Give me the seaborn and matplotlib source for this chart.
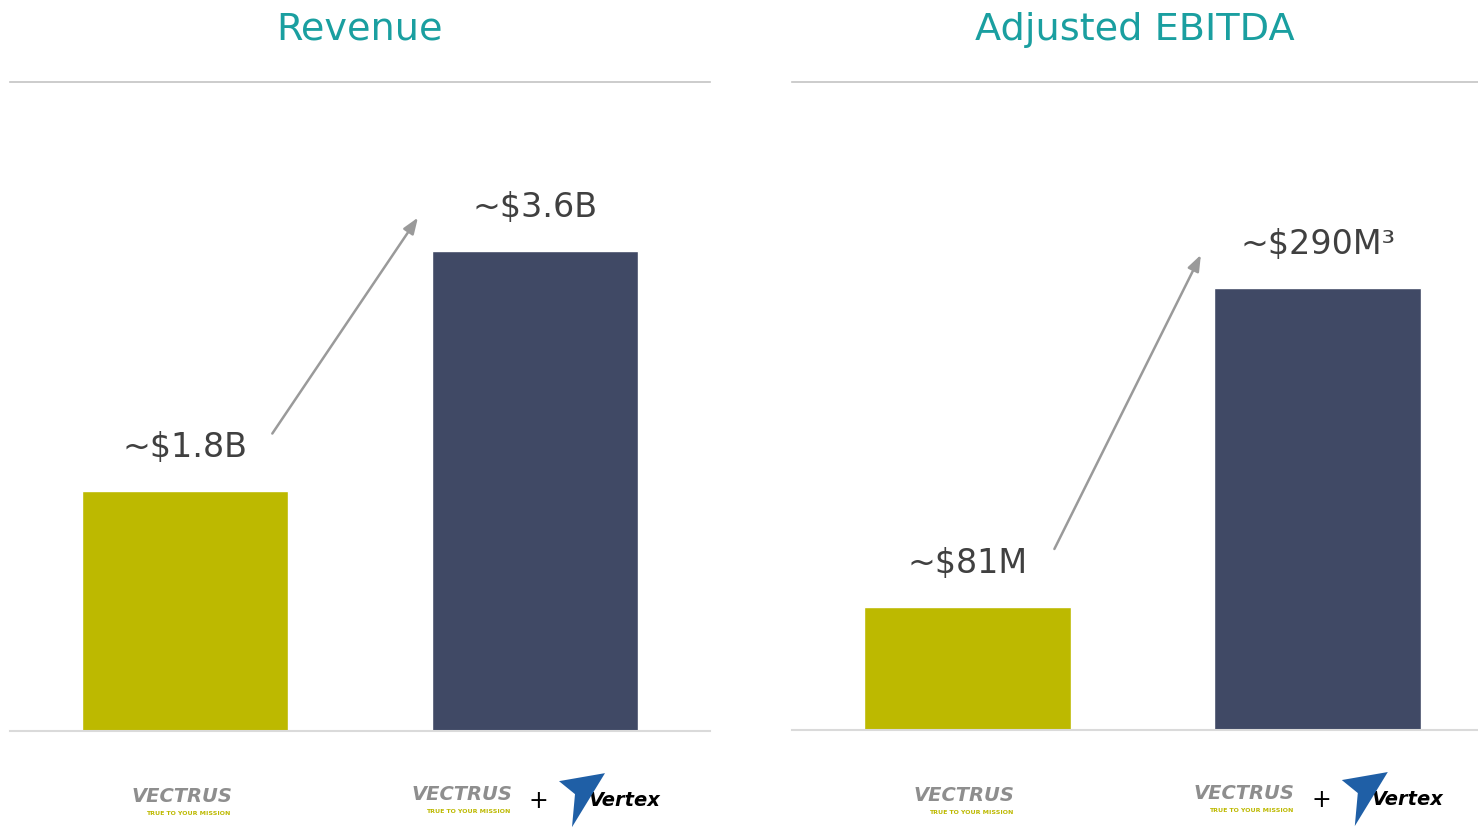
import matplotlib
matplotlib.use("Agg")
import matplotlib.pyplot as plt
import matplotlib.transforms as mtransforms
from matplotlib.patches import Polygon
import pandas as pd
import seaborn as sns

# chart data
groups = ["Vectrus", "Vectrus + Vertex"]
revenue = [1.8, 3.6]
revenue_labels = ["~$1.8B", "~$3.6B"]
ebitda = [81, 290]
ebitda_labels = ["~$81M", "~$290M³"]
titles = ["Revenue", "Adjusted EBITDA"]

YELLOW = "#BDB900"
NAVY = "#404965"
TEAL = "#1A9FA0"
TEXT = "#404040"
ARROW = "#9A9A9A"


def draw_logos(fig, ax, x, combined):
    trans = ax.get_xaxis_transform()
    if not combined:
        ax.text(x - 0.01, -0.1, "VECTRUS", transform=trans, ha="center",
                va="center", fontsize=14, fontweight="bold", style="italic",
                color="#8E8E8E")
        ax.text(x + 0.01, -0.126, "TRUE TO YOUR MISSION", transform=trans,
                ha="center", va="center", fontsize=4.5, fontweight="bold",
                color=YELLOW)
        return
    ax.text(x - 0.21, -0.097, "VECTRUS", transform=trans, ha="center",
            va="center", fontsize=14, fontweight="bold", style="italic",
            color="#8E8E8E")
    ax.text(x - 0.19, -0.122, "TRUE TO YOUR MISSION", transform=trans,
            ha="center", va="center", fontsize=4.5, fontweight="bold",
            color=YELLOW)
    ax.text(x + 0.01, -0.106, "+", transform=trans, ha="center",
            va="center", fontsize=17, color="black")
    ax.text(x + 0.255, -0.106, "Vertex", transform=trans, ha="center",
            va="center", fontsize=14, fontweight="bold", style="italic",
            color="black")
    # blue swoosh of the Vertex mark
    ax_x, ax_y = trans.transform((x, -0.105))
    swoosh = Polygon([(24, 18), (70, 26), (37, -28), (40, 5)], closed=True,
                     facecolor="#1F5FA6", edgecolor="none",
                     transform=mtransforms.Affine2D().translate(ax_x, ax_y),
                     clip_on=False)
    fig.patches.append(swoosh)


def draw_panel(fig, rect, values, labels, title, xmax, fill):
    ax = fig.add_axes(rect)
    df = pd.DataFrame({"group": groups, "value": values})
    sns.barplot(data=df, x="group", y="value", hue="group",
                palette=[YELLOW, NAVY], width=0.59, saturation=1,
                legend=False, ax=ax)
    # fill = share of the axes height taken by the tallest bar
    ymax = max(values) / fill
    ax.set_ylim(0, ymax)
    ax.set_xlim(-0.5, xmax)
    ax.set_xlabel("")
    ax.set_ylabel("")
    ax.set_xticks([])
    ax.set_yticks([])
    for side in ["left", "right"]:
        ax.spines[side].set_visible(False)
    ax.spines["top"].set_color("#C4C4C4")
    ax.spines["top"].set_linewidth(1.2)
    ax.spines["bottom"].set_color("#DADADA")
    ax.spines["bottom"].set_linewidth(1.5)

    for i, (v, lab) in enumerate(zip(values, labels)):
        ax.text(i, v + 0.068 * ymax, lab, ha="center", va="center",
                fontsize=24, color=TEXT)

    ax.annotate("", xy=(0.67, values[1] + 0.055 * ymax),
                xytext=(0.245, values[0] + 0.085 * ymax),
                arrowprops=dict(arrowstyle="-|>,head_length=0.8,head_width=0.3",
                                color=ARROW, lw=1.8))

    ax.text(0.5, 1 + 53 / 649, title, transform=ax.transAxes, ha="center",
            va="center", fontsize=27.5, color=TEAL)

    draw_logos(fig, ax, 0, False)
    draw_logos(fig, ax, 1, True)
    return ax


sns.set_theme(style="white")
plt.rcParams["font.family"] = ["DejaVu Sans"]

fig = plt.figure(figsize=(14.78, 8.29), dpi=100)
W, H = 1478, 829
draw_panel(fig, [10 / W, (H - 732) / H, 700 / W, 649 / H],
           revenue, revenue_labels, titles[0], 1.5, 480 / 649)
draw_panel(fig, [792 / W, (H - 731) / H, 686 / W, 648 / H],
           ebitda, ebitda_labels, titles[1], 1.457, 442 / 648)

fig.savefig("out.png", dpi=100)
